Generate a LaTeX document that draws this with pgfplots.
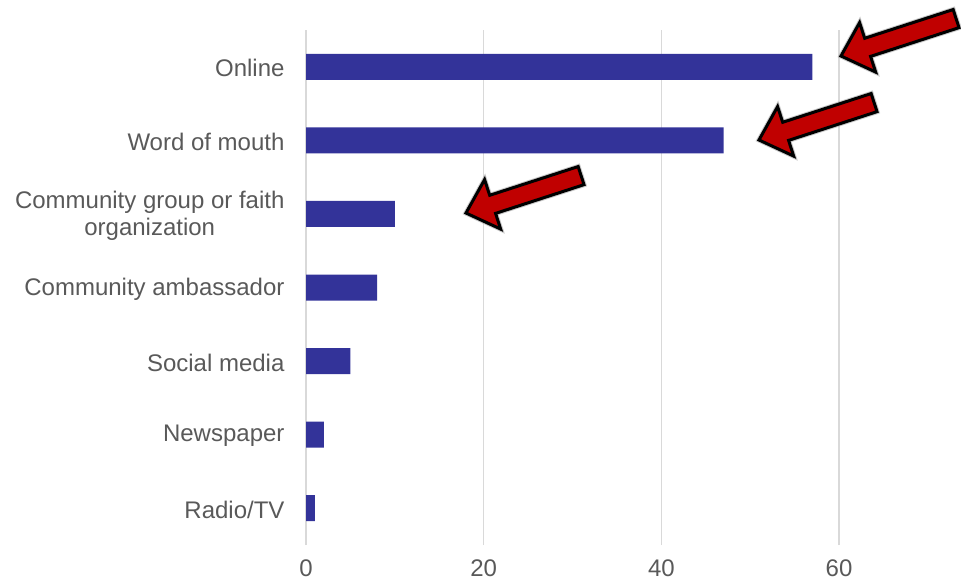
\documentclass[border=0pt]{standalone}
\usepackage{fontspec}
\setmainfont{Liberation Sans}
\usepackage{pgfplots}
\pgfplotsset{compat=1.18}
\definecolor{barblue}{RGB}{51,51,153}
\definecolor{gridgray}{RGB}{217,217,217}
\definecolor{txtgray}{RGB}{89,89,89}
\definecolor{arrowred}{RGB}{192,0,0}
\newcommand{\redarrow}[2]{%
  \begin{scope}[shift={#1}, rotate=#2]
    \draw[line width=5pt, black!35, line join=miter, miter limit=4, opacity=0.6]
      (0,0) -- (28,26) -- (28,9.5) -- (121,9.5) -- (121,-9.5) -- (28,-9.5) -- (28,-26) -- cycle;
    \draw[line width=3pt, fill=arrowred, line join=miter, miter limit=4]
      (0,0) -- (28,26) -- (28,9.5) -- (121,9.5) -- (121,-9.5) -- (28,-9.5) -- (28,-26) -- cycle;
  \end{scope}}
\begin{document}
\begin{tikzpicture}[x=1pt,y=1pt]
\path[use as bounding box] (0,0) rectangle (961,584);
\begin{axis}[
  at={(306pt,39pt)}, anchor=south west,
  scale only axis, width=655pt, height=515pt,
  xbar, bar width=26pt,
  xmin=0, xmax=73.73, ymin=-0.5, ymax=6.5,
  xtick={0,20,40,60}, ytick={0,...,6},
  yticklabels={Radio/TV, Newspaper, Social media, Community ambassador, {Community group or faith\\organization}, Word of mouth, Online},
  axis line style={draw=none},
  major tick length=0pt,
  xmajorgrids, grid style={gridgray, line width=1.5pt},
  ticklabel style={font=\fontsize{24}{27}\selectfont, text=txtgray},
  yticklabel style={align=center, xshift=-18pt, yshift=-1.5pt},
  xticklabel style={yshift=-11pt},
  /pgf/number format/assume math mode=true,
  clip=false,
]
\addplot[fill=barblue, draw=none] coordinates {
  (1,0) (2,1) (5,2) (8,3) (10,4) (47,5) (57,6)
};
\end{axis}
\redarrow{(841,528)}{18}
\redarrow{(759,444)}{18}
\redarrow{(466,371)}{18}
\end{tikzpicture}
\end{document}
